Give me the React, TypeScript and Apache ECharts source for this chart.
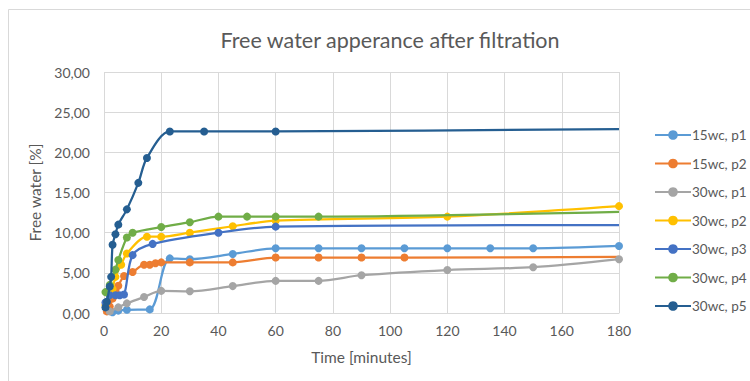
import React, { useEffect, useRef } from "react";
import * as echarts from "echarts";

// Sampling time [minutes] / free water [%] pairs for each sample
const s15wcP1: number[][] = [[3, 0.1], [5, 0.3], [8, 0.4], [16, 0.45], [23, 6.8], [30, 6.7], [45, 7.35], [60, 8.05], [75, 8.05], [90, 8.05], [105, 8.05], [120, 8.05], [135, 8.05], [150, 8.05], [180, 8.35]];
const s15wcP2: number[][] = [[1, 0.2], [2, 0.8], [3, 1.8], [4, 2.8], [5, 3.4], [7, 4.6], [10, 5.1], [14, 6.0], [16, 6.0], [18, 6.2], [20, 6.3], [30, 6.3], [45, 6.3], [60, 6.9], [75, 6.9], [90, 6.9], [105, 6.9], [180, 7.0]];
const s30wcP1: number[][] = [[2, 0.2], [5, 0.7], [8, 1.2], [14, 2.0], [20, 2.75], [30, 2.7], [45, 3.35], [60, 4.0], [75, 4.0], [90, 4.7], [120, 5.35], [150, 5.7], [180, 6.7]];
const s30wcP2: number[][] = [[0.5, 1.0], [2, 2.2], [3, 3.0], [4, 4.5], [6, 6.0], [8, 7.4], [15, 9.5], [20, 9.5], [30, 10.0], [45, 10.8], [60, 11.5], [120, 12.0], [180, 13.3]];
const s30wcP3: number[][] = [[0.5, 1.3], [2, 2.2], [4, 2.2], [5.5, 2.2], [7, 2.3], [10, 7.2], [17, 8.6], [40, 10.0], [60, 10.75], [180, 10.95]];
const s30wcP4: number[][] = [[0.5, 2.6], [2, 3.5], [4, 5.4], [5, 6.6], [8, 9.4], [10, 10.0], [20, 10.7], [30, 11.3], [40, 12.0], [50, 12.0], [60, 12.0], [75, 12.0], [180, 12.6]];
const s30wcP5: number[][] = [[0.5, 0.7], [1, 1.4], [2, 3.3], [2.5, 4.5], [3, 8.5], [4, 9.8], [5, 11.0], [8, 12.9], [12, 16.2], [15, 19.3], [23, 22.6], [35, 22.6], [60, 22.6], [180, 22.9]];

const seriesNames = ["15wc, p1", "15wc, p2", "30wc, p1", "30wc, p2", "30wc, p3", "30wc, p4", "30wc, p5"];
const seriesData = [s15wcP1, s15wcP2, s30wcP1, s30wcP2, s30wcP3, s30wcP4, s30wcP5];
// Series whose final reading is drawn without a marker
const noEndMarker = [false, true, false, false, true, true, true];
const seriesColors = ["#5B9BD5", "#ED7D31", "#A5A5A5", "#FFC000", "#4472C4", "#70AD47", "#255E91"];

const chartTitle = "Free water apperance after filtration";
const xAxisTitle = "Time [minutes]";
const yAxisTitle = "Free water [%]";

const FONT = "Lato, 'Open Sans', sans-serif";
const TEXT = "#595959";
const GRID = "#D9D9D9";

export default function App() {
  const ref = useRef<HTMLDivElement>(null);

  useEffect(() => {
    if (!ref.current) return;
    const chart = echarts.init(ref.current, undefined, { renderer: "svg" });

    const series = seriesNames.map((name, i) => ({
      name,
      type: "line",
      smooth: 0.3,
      symbol: "circle",
      symbolSize: 8,
      color: seriesColors[i],
      lineStyle: { width: 2.25, color: seriesColors[i] },
      itemStyle: { color: seriesColors[i] },
      data: seriesData[i].map((p, j) =>
        noEndMarker[i] && j === seriesData[i].length - 1
          ? { value: p, symbol: "none" }
          : { value: p }
      ),
      z: 2 + i,
    }));

    chart.setOption({
      animation: false,
      textStyle: { fontFamily: FONT },
      title: {
        text: chartTitle,
        left: 385,
        textAlign: "center",
        top: 24,
        textStyle: { fontFamily: FONT, fontSize: 21.5, fontWeight: "normal", color: TEXT },
      },
      graphic: [
        {
          type: "rect",
          shape: { x: 8.5, y: 9.5, width: 760, height: 400 },
          style: { fill: "none", stroke: GRID, lineWidth: 1 },
          silent: true,
        },
      ],
      legend: {
        orient: "vertical",
        left: 654,
        top: 128,
        padding: 0,
        itemWidth: 36,
        itemHeight: 12,
        itemGap: 14.5,
        textStyle: { fontFamily: FONT, fontSize: 13.5, color: TEXT, padding: [0, 0, 0, -4] },
        data: seriesNames,
      },
      grid: { left: 104, right: 131, top: 72, bottom: 68 },
      xAxis: {
        type: "value",
        min: 0,
        max: 180,
        interval: 20,
        name: xAxisTitle,
        nameLocation: "middle",
        nameGap: 36,
        nameTextStyle: { fontFamily: FONT, fontSize: 15.5, color: TEXT },
        axisLine: { show: true, lineStyle: { color: GRID } },
        axisTick: { show: false },
        axisLabel: { fontFamily: FONT, fontSize: 14, color: TEXT, margin: 10 },
        splitLine: { show: true, lineStyle: { color: GRID } },
      },
      yAxis: {
        type: "value",
        min: 0,
        max: 30,
        interval: 5,
        name: yAxisTitle,
        nameLocation: "middle",
        nameGap: 55,
        nameTextStyle: { fontFamily: FONT, fontSize: 15.5, color: TEXT },
        axisLine: { show: false },
        axisTick: { show: false },
        axisLabel: {
          fontFamily: FONT,
          fontSize: 14,
          color: TEXT,
          margin: 14,
          formatter: (v: number) => v.toFixed(2).replace(".", ","),
        },
        splitLine: { show: true, lineStyle: { color: GRID } },
      },
      series,
    });

    return () => chart.dispose();
  }, []);

  return (
    <div
      ref={ref}
      style={{ position: "fixed", left: 0, top: 0, width: 750, height: 381, background: "#fff" }}
    />
  );
}
